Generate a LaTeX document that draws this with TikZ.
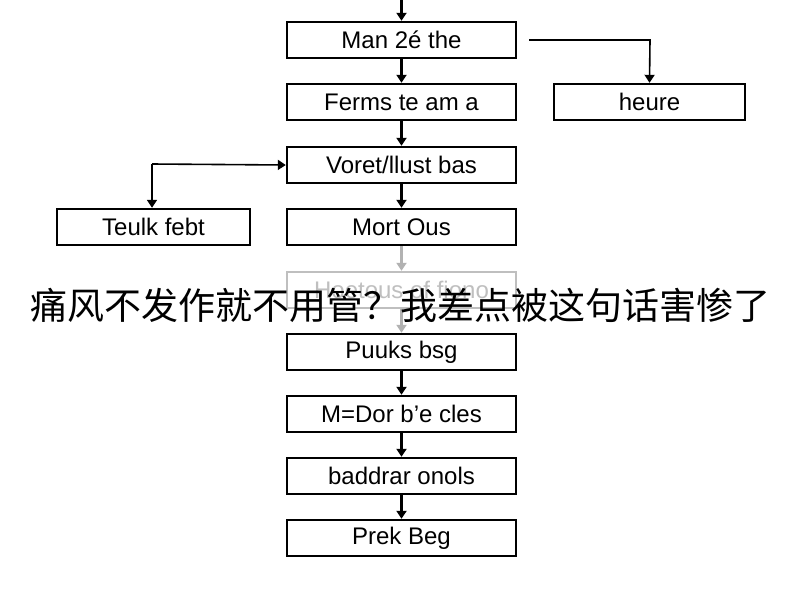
\documentclass[tikz,border=0pt]{standalone}
\usepackage{fontspec}
\setmainfont{Liberation Sans}
\newfontfamily\cjk{Noto Sans CJK SC}
\usetikzlibrary{arrows.meta}
\begin{document}
\begin{tikzpicture}[x=1pt,y=-1pt,
 box/.style={draw,line width=2.4pt,minimum height=36pt,inner sep=0pt,font=\fontsize{24}{26}\selectfont},
 main/.style={box,minimum width=229pt},
 fbox/.style={main,draw=black!25,text=black!25},
 ar/.style={line width=2.2pt,-{Triangle[length=8pt,width=10pt]}}]
\useasboundingbox[fill=white] (0,0) rectangle (800,600);
\node[main] (a) at (401.5,40) {Man 2é the};
\node[main] (b) at (401.5,102) {Ferms te am a};
\node[main] (c) at (401.5,165) {Voret/llust bas};
\node[main] (d) at (401.5,227) {Mort Ous};
\node[fbox] (e) at (401.5,290) {Hoetous of fiono};
\node[main] (f) at (401.5,352) {Puuks bsg};
\node[main] (g) at (401.5,414) {M=Dor b'e cles};
\node[main] (h) at (401.5,476) {baddrar onols};
\node[main] (i) at (401.5,538) {Prek Beg};
\node[box,minimum width=191pt] (r) at (649.5,102) {heure};
\node[box,minimum width=193pt] (l) at (153.5,227) {Teulk febt};
\coordinate (top) at (401.5,0);
\coordinate (rc) at (650,40);
\coordinate (lc) at (152,164);
\draw[ar] (top) -- (a);
\foreach \u/\v in {a/b,b/c,c/d,f/g,g/h,h/i}{\draw[ar] (\u) -- (\v);}
\draw[ar,draw=black!30] (d) -- (e);
\draw[ar,draw=black!30] (e) -- (f);
\draw[ar,line width=1.6pt] (a.east)++(12,0) -- (rc) -- (r.north);
\draw[ar,line width=1.6pt] (lc) -- (c.west);
\draw[ar,line width=1.6pt] (lc) -- (l.north -| lc);
\node[font=\cjk\fontsize{37}{40}\selectfont,inner sep=0pt] (t) at (400,305) {痛风不发作就不用管？我差点被这句话害惨了};
\end{tikzpicture}
\end{document}
